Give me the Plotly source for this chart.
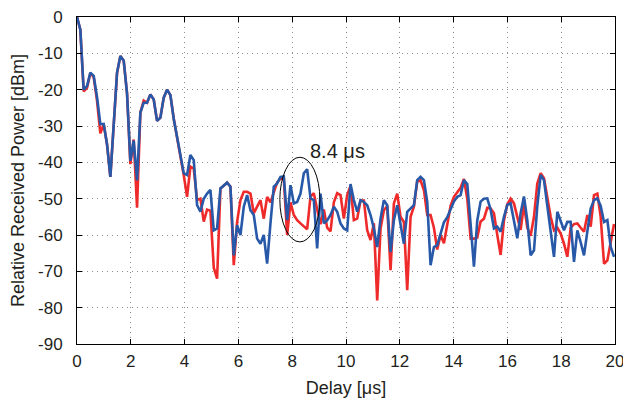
import plotly.graph_objects as go

dt = 0.124  # sample spacing in µs

blue = [0, -3.5, -20, -19, -15.3, -16.2, -22, -29.5, -29.4, -35,
        -44, -30, -15.3, -10.7, -12, -21, -39.6, -34, -45, -26.3,
        -23.6, -23.6, -21.3, -22.7, -28.6, -27.7, -22.2, -20, -21.5, -28,
        -33, -38, -43, -43.5, -38, -39.4, -51.8, -53.6, -50, -48.6,
        -47.6, -58.7, -58.2, -47.2, -46.3, -45.6, -46.7, -65.6, -57.3, -60,
        -52.2, -49, -53.2, -54.5, -61, -62.4, -60, -67.9, -56.8, -46.7,
        -45.8, -44, -43.9, -55.9, -46.3, -51.3, -50.9, -48.6, -43, -41.9,
        -49.9, -50.4, -63.7, -48.6, -56.8, -56, -54.5, -52.2, -53.6, -56.8,
        -58.2, -58.7, -46, -50.4, -53.6, -50.4, -50.9, -51.8, -54.5, -58.2,
        -63.3, -55.5, -50.4, -51.8, -64.7, -55.9, -51.8, -56.8, -62.4, -53.6,
        -52.7, -51.8, -44.9, -44, -44.9, -50.9, -68.3, -63.3, -62.8, -59.5,
        -56.5, -55.1, -53, -50.8, -49.5, -49, -44.9, -46, -57, -68.7,
        -56, -50.8, -50, -49.9, -53, -58.2, -57.7, -59.1, -55, -51.7,
        -51.3, -56, -60.9, -54, -49.4, -56, -65.6, -64.2, -52, -43.5,
        -44.9, -52, -58.7, -66, -53.6, -55.9, -58.7, -56.4, -56.4, -67.4,
        -58.7, -62, -65.6, -59, -52.7, -50.4, -49.9, -52, -56.4, -55.9,
        -63.3, -66]

red = [0, -3.5, -20.5, -19.5, -15.5, -16.5, -23, -32, -29.5, -35,
       -44, -30, -15.5, -10.7, -12, -21, -40.5, -33.7, -52.5, -26.3,
       -23, -23.6, -21.3, -22.7, -28.6, -27.7, -22.2, -20, -21.5, -28,
       -33, -38, -43.5, -49.5, -41.2, -41.7, -50.4, -50, -56.3, -53,
       -53.3, -69, -72, -47.2, -46.3, -45.6, -46.7, -68.3, -56.4, -50.4,
       -48.1, -48.1, -48.6, -54, -52.2, -50.4, -55.5, -49.5, -51, -48,
       -45.5, -44.5, -44.5, -60, -51, -54.5, -55.9, -56.8, -57.7, -58.4,
       -49.4, -48.5, -53, -57, -53, -58, -59, -51, -48.5, -49,
       -55.5, -49, -46.5, -55.9, -55.5, -50.5, -50.5, -58.7, -61.4, -56.8,
       -78, -58.2, -53.2, -52, -69.7, -51.3, -48.6, -55, -56.4, -75.2,
       -55, -52.2, -45.3, -45, -47.6, -54.5, -54.5, -58, -64, -60,
       -62.3, -57, -52, -49.5, -48.3, -47, -44.6, -50, -61, -61,
       -60.7, -56.3, -55.5, -52.5, -52.7, -54, -60, -65.5, -56, -51.5,
       -50, -51.3, -55, -58.6, -51.7, -58, -60.2, -55, -45.8, -43,
       -44.4, -50, -55, -58.7, -58, -59.6, -62.4, -66, -58, -57,
       -56.8, -58, -59.1, -54.5, -57.7, -49, -48.6, -55, -67.9, -67,
       -61.4, -57]

delay_b = [round(i * dt, 4) for i in range(len(blue))]
delay_r = [round(i * dt, 4) for i in range(len(red))]

x_ticks = list(range(0, 21, 2))
x_labels = [str(v) for v in x_ticks]
y_ticks = list(range(-90, 1, 10))
y_labels = [str(v) for v in y_ticks]  # plain hyphen-minus like the reference

fig = go.Figure()
fig.add_trace(go.Scatter(x=delay_r, y=red, mode="lines",
                         line=dict(color="#EE2A2A", width=2.6), showlegend=False))
fig.add_trace(go.Scatter(x=delay_b, y=blue, mode="lines",
                         line=dict(color="#2859A8", width=2.6), showlegend=False))

fig.add_shape(type="circle", xref="x", yref="y", x0=7.54, x1=9.03, y0=-61.9, y1=-38.6,
              line=dict(color="black", width=1))
fig.add_annotation(x=9.7, y=-36.9, text="8.4 μs", showarrow=False,
                   font=dict(size=20, color="#231f20", family="Arial"))

axis_common = dict(showline=True, linecolor="black", linewidth=1, mirror="ticks",
                   ticks="inside", ticklen=5, tickcolor="black", automargin=False,
                   ticklabeloverflow="allow",
                   showgrid=True, gridcolor="#8c8c8c", griddash="1px,4px", gridwidth=1,
                   zeroline=False, tickfont=dict(size=17, color="#231f20", family="Arial"))

fig.update_xaxes(range=[0, 20], tickmode="array", tickvals=x_ticks, ticktext=x_labels,
                 ticklabelstandoff=2,
                 title=dict(text="Delay [μs]", font=dict(size=18, color="#231f20", family="Arial"),
                            standoff=10),
                 **axis_common)
fig.update_yaxes(range=[-90, 0], tickmode="array", tickvals=y_ticks, ticktext=y_labels,
                 ticklabelstandoff=10,
                 title=dict(text="Relative Received Power [dBm]",
                            font=dict(size=18, color="#231f20", family="Arial"), standoff=8),
                 **axis_common)

fig.update_layout(width=623, height=401, margin=dict(l=77, r=8, t=17, b=57),
                  plot_bgcolor="white", paper_bgcolor="white")

# remove the default page margin so the figure sits at the window origin
fig.write_html("out.html", config={"displayModeBar": False},
               post_script="document.body.style.margin='0px';")
